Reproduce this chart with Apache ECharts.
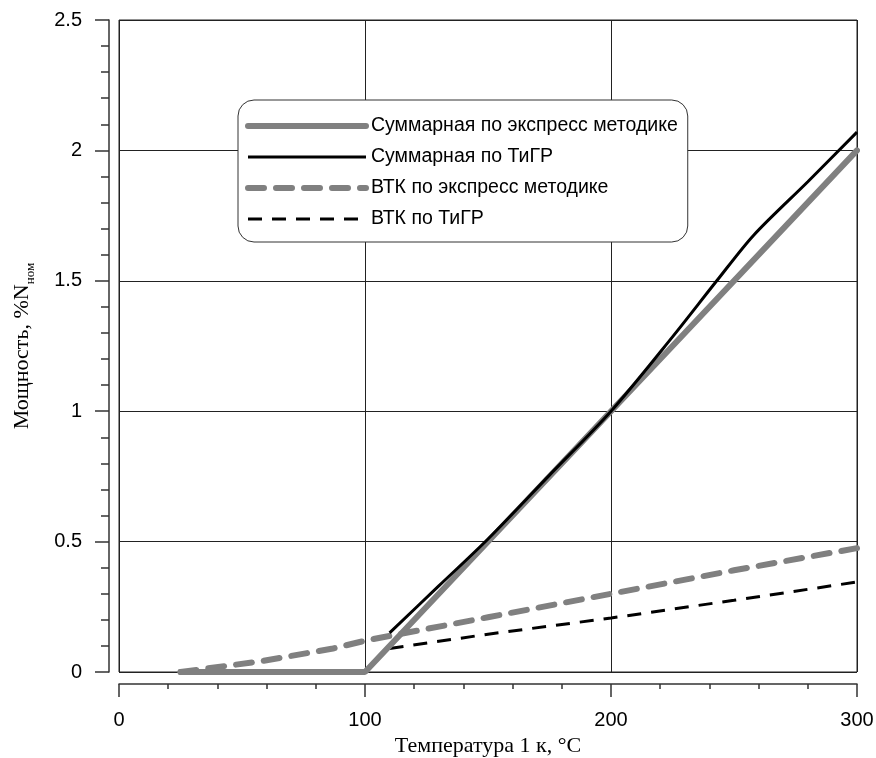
<!DOCTYPE html>
<html>
<head>
<meta charset="utf-8">
<script src="https://cdn.jsdelivr.net/npm/echarts@6/dist/echarts.min.js"></script>
<style>
  html, body { margin: 0; padding: 0; background: #fff; }
  #chart { width: 876px; height: 758px; }
</style>
</head>
<body>
<div id="chart"></div>
<script>
// Суммарная по экспресс методике
const sumExpressX = [25, 100, 200, 300];
const sumExpressY = [0, 0, 1.0, 2.0];
// Суммарная по ТиГР (до 100 °C и после 110 °C)
const sumTigrLowX = [25, 100];
const sumTigrLowY = [0, 0];
const sumTigrX = [110, 130, 150, 175, 200, 225, 243, 258, 280, 300];
const sumTigrY = [0.15, 0.33, 0.51, 0.755, 1.0, 1.285, 1.5, 1.675, 1.88, 2.07];
// ВТК по экспресс методике
const vtkExpressX = [25, 57, 87, 100, 150, 200, 250, 300];
const vtkExpressY = [0, 0.04, 0.09, 0.12, 0.21, 0.30, 0.39, 0.475];
// ВТК по ТиГР
const vtkTigrX = [110, 150, 200, 250, 300];
const vtkTigrY = [0.09, 0.145, 0.207, 0.275, 0.345];

const xTicks = { min: 0, max: 300, interval: 100 };
const yTicks = { min: 0, max: 2.5, interval: 0.5 };

const names = [
  'Суммарная по экспресс методике',
  'Суммарная по ТиГР',
  'ВТК по экспресс методике',
  'ВТК по ТиГР'
];

const pairs = (xs, ys) => xs.map((x, i) => [x, ys[i]]);

const chart = echarts.init(document.getElementById('chart'));

const axisCommon = {
  axisLine: { show: true, onZero: false, lineStyle: { color: '#333', width: 1.5 } },
  axisLabel: { color: '#000', fontFamily: 'Liberation Sans', fontSize: 20 },
  splitLine: { show: true, lineStyle: { color: '#222', width: 1 } },
  minorSplitLine: { show: false }
};

const option = {
  animation: false,
  backgroundColor: '#fff',
  grid: {
    left: 119, right: 19, top: 20, bottom: 86,
    containLabel: false, outerBoundsMode: 'none',
    show: true, borderColor: '#222', borderWidth: 1, backgroundColor: 'transparent'
  },
  legend: {
    orient: 'vertical',
    left: 238, top: 100,
    data: names,
    backgroundColor: '#fff',
    borderColor: '#333', borderWidth: 1, borderRadius: 16,
    padding: [16, 10, 13, 7],
    itemWidth: 118, itemHeight: 14, itemGap: 11,
    itemStyle: { opacity: 0 },
    lineStyle: { width: 'inherit' },
    textStyle: { color: '#000', fontFamily: 'Liberation Sans', fontSize: 19.5 }
  },
  xAxis: Object.assign({}, axisCommon, {
    type: 'value',
    min: xTicks.min, max: xTicks.max, interval: xTicks.interval,
    offset: 12,
    axisTick: { show: true, inside: false, length: 13, lineStyle: { color: '#333', width: 1.5 } },
    minorTick: { show: true, splitNumber: 5, length: 5, lineStyle: { color: '#333', width: 1.5 } },
    axisLabel: Object.assign({}, axisCommon.axisLabel, { margin: 26 }),
    name: 'Температура 1 к, °C',
    nameLocation: 'middle',
    nameGap: 50,
    nameTextStyle: { color: '#000', fontFamily: 'Liberation Serif', fontSize: 22 }
  }),
  yAxis: Object.assign({}, axisCommon, {
    type: 'value',
    min: yTicks.min, max: yTicks.max, interval: yTicks.interval,
    offset: 10,
    axisTick: { show: true, inside: false, length: 14, lineStyle: { color: '#333', width: 1.5 } },
    minorTick: { show: true, splitNumber: 5, length: 8, lineStyle: { color: '#333', width: 1.5 } },
    axisLabel: Object.assign({}, axisCommon.axisLabel, { margin: 27 }),
    name: '{a|Мощность, %N}{b|ном}',
    nameLocation: 'middle',
    nameGap: 72,
    nameRotate: 90,
    nameTextStyle: {
      color: '#000',
      rich: {
        a: { fontFamily: 'Liberation Serif', fontSize: 22, lineHeight: 26, verticalAlign: 'top', color: '#000' },
        b: { fontFamily: 'Liberation Serif', fontSize: 13, lineHeight: 14, verticalAlign: 'bottom', color: '#000' }
      }
    }
  }),
  series: [
    {
      name: names[2], type: 'line', symbol: 'none', z: 2,
      lineStyle: { color: '#808080', width: 6, type: [16, 12], cap: 'round' },
      itemStyle: { color: '#808080' },
      data: pairs(vtkExpressX, vtkExpressY)
    },
    {
      name: names[3], type: 'line', symbol: 'none', z: 3,
      lineStyle: { color: '#000', width: 3, type: [14, 10] },
      itemStyle: { color: '#000' },
      data: pairs(vtkTigrX, vtkTigrY)
    },
    {
      name: names[0], type: 'line', symbol: 'none', z: 4,
      lineStyle: { color: '#808080', width: 6, cap: 'round' },
      itemStyle: { color: '#808080' },
      data: pairs(sumExpressX, sumExpressY)
    },
    {
      name: names[1], type: 'line', symbol: 'none', z: 5,
      smooth: 0.3,
      lineStyle: { color: '#000', width: 3 },
      itemStyle: { color: '#000' },
      data: pairs(sumTigrX, sumTigrY)
    },
    {
      name: names[1], type: 'line', symbol: 'none', z: 3,
      lineStyle: { color: '#000', width: 3 },
      itemStyle: { color: '#000' },
      data: pairs(sumTigrLowX, sumTigrLowY)
    }
  ]
};

chart.setOption(option);
</script>
</body>
</html>
